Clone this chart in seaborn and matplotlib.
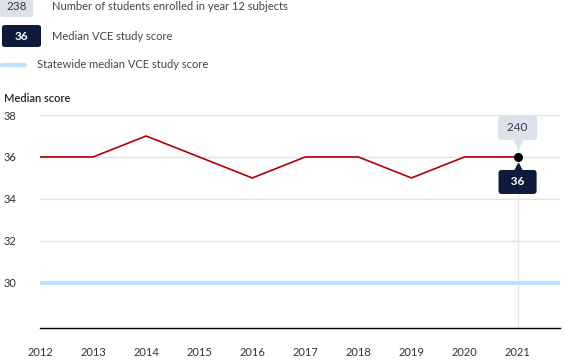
import matplotlib
matplotlib.use('Agg')
import matplotlib.pyplot as plt
import matplotlib.transforms as mtransforms
from matplotlib.patches import FancyBboxPatch
from matplotlib.lines import Line2D
import seaborn as sns
import pandas as pd

years = [2012, 2013, 2014, 2015, 2016, 2017, 2018, 2019, 2020, 2021]
median_score = [36, 36, 37, 36, 35, 36, 36, 35, 36, 36]
statewide_median = 30
enrolled_2021 = 240
legend_enrolled = '238'
legend_median = '36'

navy = '#0d1a3b'
grey_box = '#dde1e9'
light_blue = '#bfe1fb'
red = '#b00000'

sns.set_style('white')
plt.rcParams['font.family'] = ['Lato', 'DejaVu Sans']

df = pd.DataFrame({'year': years, 'score': median_score})

W, H = 565, 361
fig = plt.figure(figsize=(W / 100, H / 100), dpi=100)
ax = fig.add_axes([40 / W, 1 - 328 / H, 520 / W, 213 / H])

# gridlines
for y in [32, 34, 36, 38]:
    ax.axhline(y, color='#e2e2e2', lw=1, zorder=0)
ax.axvline(years[-1], color='#e6e6e6', lw=1, zorder=0)

ax.axhline(statewide_median, color=light_blue, lw=3, zorder=1)
sns.lineplot(data=df, x='year', y='score', color=red, lw=1.2, ax=ax, zorder=3)
ax.scatter([years[-1]], [median_score[-1]], color='black', s=30, zorder=4)

ax.set_xlim(2012, 2021.8)
ax.set_ylim(27.85, 38)
ax.set_xticks(years)
ax.set_yticks([30, 32, 34, 36, 38])
ax.tick_params(axis='x', length=0, pad=14, labelsize=8, labelcolor='#333333')
ax.tick_params(axis='y', length=0, pad=26, labelsize=8, labelcolor='#333333')
for lbl in ax.get_yticklabels():
    lbl.set_horizontalalignment('left')
ax.set_xlabel('')
ax.set_ylabel('')
for s in ['left', 'right', 'top']:
    ax.spines[s].set_visible(False)
ax.spines['bottom'].set_color('black')
ax.spines['bottom'].set_linewidth(1)

# tooltip boxes at last point
px = years[-1]
py = median_score[-1]
ax.annotate(f' {enrolled_2021} ', xy=(px, py), xytext=(0, 21), textcoords='offset points',
            ha='center', va='center', fontsize=8.5, color='#333a4a', zorder=6,
            bbox=dict(boxstyle='round,pad=0.55,rounding_size=0.25', fc=grey_box, ec='none'))
ax.annotate(f'  {legend_median}  ', xy=(px, py), xytext=(0, -18), textcoords='offset points',
            ha='center', va='center', fontsize=8.5, color='white', fontweight='bold', zorder=6,
            bbox=dict(boxstyle='round,pad=0.55,rounding_size=0.25', fc=navy, ec='none'))
up = mtransforms.offset_copy(ax.transData, fig=fig, x=0, y=9.5, units='points')
dn = mtransforms.offset_copy(ax.transData, fig=fig, x=0, y=-7, units='points')
ax.plot([px], [py], marker='v', ms=6, color=grey_box, transform=up, zorder=5, clip_on=False)
ax.plot([px], [py], marker='^', ms=6, color=navy, transform=dn, zorder=5, clip_on=False)

# legend at top
def box(x0, y0, w, h, fc, text, tc, bold=False):
    p = FancyBboxPatch((x0 / W, 1 - (y0 + h) / H), w / W, h / H,
                       boxstyle='round,pad=0,rounding_size=0.006',
                       transform=fig.transFigure, fc=fc, ec='none')
    fig.patches.append(p)
    fig.text((x0 + w / 2) / W, 1 - (y0 + h / 2) / H, text, ha='center', va='center',
             fontsize=8.5, color=tc, fontweight='bold' if bold else 'normal')

box(0, -5, 33, 22, grey_box, legend_enrolled, '#333a4a')
fig.text(52 / W, 1 - 7 / H, 'Number of students enrolled in year 12 subjects',
         ha='left', va='center', fontsize=8, color='#444444')
box(2, 25, 39, 22, navy, legend_median, 'white', bold=True)
fig.text(52 / W, 1 - 36 / H, 'Median VCE study score',
         ha='left', va='center', fontsize=8, color='#444444')
fig.lines.append(Line2D([2 / W, 25 / W], [1 - 65 / H, 1 - 65 / H], color=light_blue, lw=3,
                        transform=fig.transFigure))
fig.text(37 / W, 1 - 65 / H, 'Statewide median VCE study score',
         ha='left', va='center', fontsize=8, color='#444444')
fig.text(4 / W, 1 - 99 / H, 'Median score', ha='left', va='center',
         fontsize=8, color='#222222', fontweight='semibold')

fig.savefig('out.png', dpi=100)
